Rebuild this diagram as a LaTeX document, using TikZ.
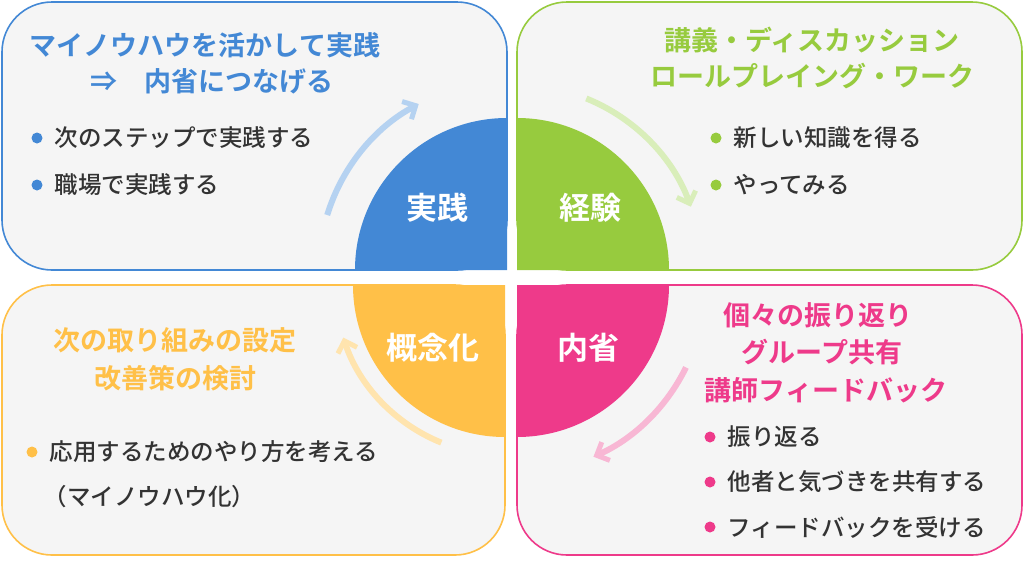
\documentclass[tikz,border=0pt]{standalone}
\usepackage{fontspec}
\newfontfamily\jpb{Noto Sans CJK JP Bold}
\newfontfamily\jpm{Noto Sans CJK JP Medium}
\usetikzlibrary{arrows.meta}
\definecolor{cB}{HTML}{4388D5}
\definecolor{cG}{HTML}{97CB3E}
\definecolor{cY}{HTML}{FFC048}
\definecolor{cP}{HTML}{EE3A8A}
\definecolor{lB}{HTML}{B5D2F1}
\definecolor{lG}{HTML}{D9EEBA}
\definecolor{lY}{HTML}{FFE4AE}
\definecolor{lP}{HTML}{F8B7D4}
\definecolor{panel}{HTML}{F5F5F5}
\definecolor{txt}{HTML}{333333}
\tikzset{
 panelbox/.style={fill=panel,line width=1.6pt,rounded corners=50pt},
 title/.style={font=\jpb\fontsize{27}{30}\selectfont,anchor=center},
 bul/.style={font=\jpm\fontsize{23.5}{27}\selectfont,text=txt,anchor=west},
 centre/.style={font=\jpb\fontsize{31}{34}\selectfont,text=white},
 arc/.style={line width=6pt,-{Straight Barb[length=10pt,width=20pt,line width=5pt]}}
}
\newcommand{\bl}[4]{\fill[#1] (#2,#3) circle (5.5); \node[bul] at (#2+14,#3) {#4};}
\begin{document}
\begin{tikzpicture}[x=1pt,y=-1pt]
\useasboundingbox (0,0) rectangle (1024,563);
% panels
\draw[panelbox,draw=cB] (2,2) rectangle (507,270);
\draw[panelbox,draw=cG] (517,2) rectangle (1022,270);
\draw[panelbox,draw=cY] (2,285) rectangle (505,555);
\draw[panelbox,draw=cP] (517,285) rectangle (1022,555);
% quadrants
\coordinate (cb) at (507,270);
\coordinate (cg) at (517,270);
\coordinate (cy) at (505,285);
\coordinate (cp) at (517,285);
\fill[cB] (cb) -- ++(-152,0) arc[start angle=180,end angle=270,radius=152] -- cycle;
\fill[cG] (cg) -- ++(0,-152) arc[start angle=270,end angle=360,radius=152] -- cycle;
\fill[cY] (cy) -- ++(-152,0) arc[start angle=180,end angle=90,radius=152] -- cycle;
\fill[cP] (cp) -- ++(152,0) arc[start angle=0,end angle=90,radius=152] -- cycle;
\node[centre] (n1) at (437,208) {実践};
\node[centre] (n2) at (590,208) {経験};
\node[centre] (n3) at (433,348) {概念化};
\node[centre] (n4) at (588,348) {内省};
% arcs
\draw[arc,draw=lB] (cb) ++(197:188) arc[start angle=197,end angle=242,radius=188];
\draw[arc,draw=lG] (cg) ++(292:185) arc[start angle=292,end angle=340,radius=185];
\draw[arc,draw=lP] (cp) ++(26:188) arc[start angle=26,end angle=66,radius=188];
\draw[arc,draw=lY] (cy) ++(112:170) arc[start angle=112,end angle=162,radius=170];
% TL
\node[title,text=cB] (t1) at (205,45) {マイノウハウを活かして実践};
\node[title,text=cB] (t2) at (212,81) {⇒\hspace{1em}内省につなげる};
\bl{cB}{37}{138}{次のステップで実践する}
\bl{cB}{37}{185}{職場で実践する}
% TR
\node[title,text=cG] (t3) at (812,40) {講義・ディスカッション};
\node[title,text=cG] (t4) at (812,76) {ロールプレイング・ワーク};
\bl{cG}{716}{138}{新しい知識を得る}
\bl{cG}{716}{185}{やってみる}
% BL
\node[title,text=cY] (t5) at (175,340) {次の取り組みの設定};
\node[title,text=cY] (t6) at (175,378) {改善策の検討};
\bl{cY}{32}{452}{応用するためのやり方を考える}
\node[bul] (t7) at (40,497) {（マイノウハウ化）};
% BR
\node[title,text=cP] (t8) at (818,315) {個々の振り返り};
\node[title,text=cP] (t9) at (822,352) {グループ共有};
\node[title,text=cP] (t10) at (826,390) {講師フィードバック};
\bl{cP}{710}{437}{振り返る}
\bl{cP}{710}{482}{他者と気づきを共有する}
\bl{cP}{710}{527}{フィードバックを受ける}
\end{tikzpicture}
\end{document}
